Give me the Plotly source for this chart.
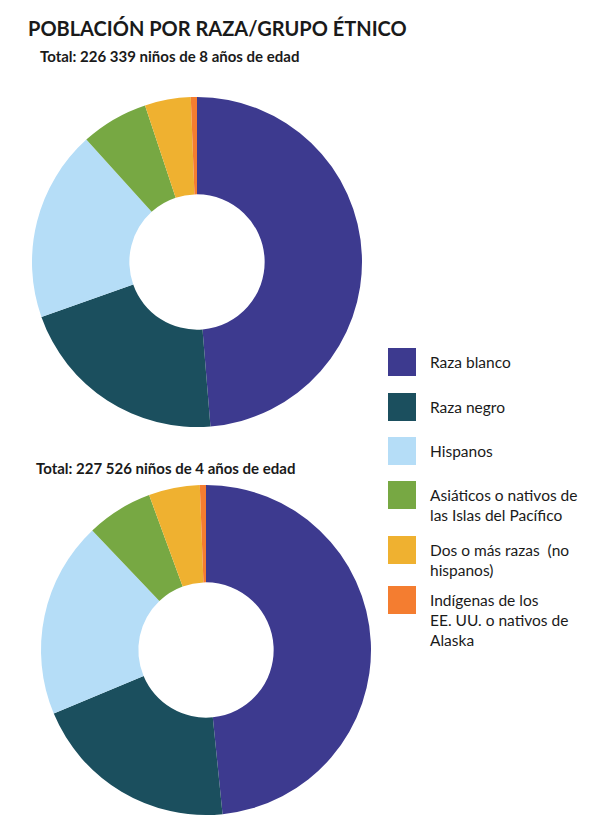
import plotly.graph_objects as go

labels = ["Raza blanco", "Raza negro", "Hispanos",
          "Asiáticos o nativos de<br>las Islas del Pacífico",
          "Dos o más razas  (no<br>hispanos)",
          "Indígenas de los<br>EE. UU. o nativos de<br>Alaska"]
colors = ["#3d3a8f", "#1b4f5e", "#b5ddf7", "#77a843", "#efb130", "#f47d30"]
vals_8 = [48.7, 20.9, 18.7, 6.6, 4.5, 0.6]
vals_4 = [48.4, 20.3, 19.2, 6.5, 5.0, 0.6]
legend_top = [340, 385, 429, 473, 528, 578]  # px from top of each legend row

H = 838
W = 614
fig = go.Figure()
fig.add_trace(go.Pie(labels=labels, values=vals_8, hole=0.41, sort=False,
                     direction="clockwise", textinfo="none", showlegend=False,
                     marker=dict(colors=colors, line=dict(width=0)),
                     domain=dict(x=[24/W, 354/W], y=[1-419/H, 1-89/H])))
fig.add_trace(go.Pie(labels=labels, values=vals_4, hole=0.41, sort=False,
                     direction="clockwise", textinfo="none", showlegend=False,
                     marker=dict(colors=colors, line=dict(width=0)),
                     domain=dict(x=[33/W, 363/W], y=[1-807/H, 1-477/H])))

fig.add_annotation(text="<b>POBLACIÓN POR RAZA/GRUPO ÉTNICO</b>", x=18/W, y=1-6/H,
                   xref="paper", yref="paper", xanchor="left", yanchor="top",
                   showarrow=False, font=dict(size=20, color="#1a1a1a"))
fig.add_annotation(text="<b>Total: 226 339 niños de 8 años de edad</b>", x=30/W, y=1-37/H,
                   xref="paper", yref="paper", xanchor="left", yanchor="top",
                   showarrow=False, font=dict(size=15, color="#1a1a1a"))
fig.add_annotation(text="<b>Total: 227 526 niños de 4 años de edad</b>", x=26/W, y=1-449/H,
                   xref="paper", yref="paper", xanchor="left", yanchor="top",
                   showarrow=False, font=dict(size=15, color="#1a1a1a"))

for lab, col, top in zip(labels, colors, legend_top):
    fig.add_shape(type="rect", xref="paper", yref="paper",
                  x0=380/W, x1=408/W, y0=1-(top+28)/H, y1=1-top/H,
                  fillcolor=col, line=dict(width=0))
    fig.add_annotation(text=lab, x=420/W, y=1-(top+3)/H, xref="paper", yref="paper",
                       xanchor="left", yanchor="top", align="left", showarrow=False,
                       font=dict(size=15.5, color="#1a1a1a"))

fig.update_layout(
    width=W, height=H, margin=dict(l=0, r=0, t=0, b=0),
    paper_bgcolor="white", font=dict(family="Lato", color="#1a1a1a"),
)
fig.write_html("out.html")
